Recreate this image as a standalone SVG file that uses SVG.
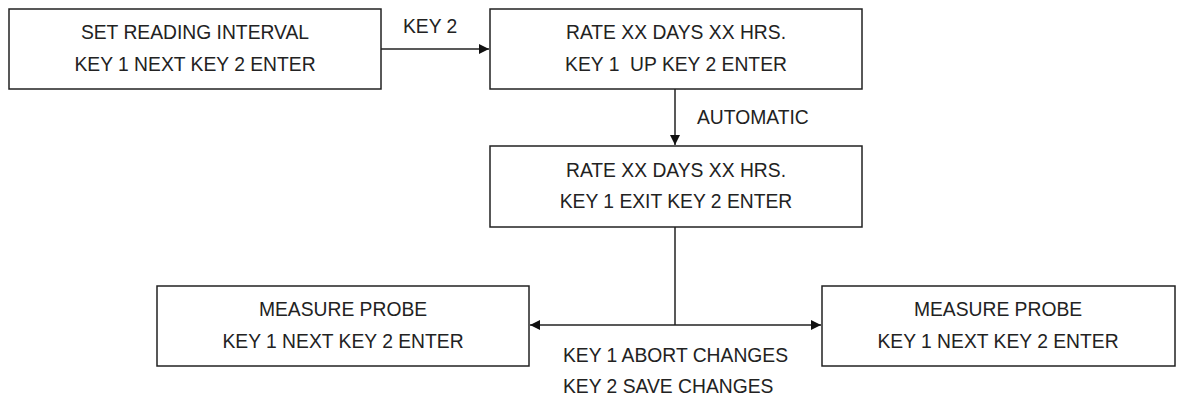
<svg xmlns="http://www.w3.org/2000/svg" width="1186" height="400" viewBox="0 0 1186 400">
<style>
.box{fill:#fff;stroke:#222;stroke-width:1.5}
.t{font-family:"Liberation Sans",Arial,sans-serif;font-size:19.3px;fill:#222;text-anchor:middle;white-space:pre}
.l{font-family:"Liberation Sans",Arial,sans-serif;font-size:19.3px;fill:#222;white-space:pre}
.c{fill:none;stroke:#222;stroke-width:1.5}
</style>
<defs>
<marker id="ah" viewBox="0 0 10 10" refX="10" refY="5" markerWidth="10" markerHeight="10" markerUnits="userSpaceOnUse" orient="auto">
<path d="M0,0 L10,5 L0,10 z" fill="#111"/>
</marker>
</defs>
<rect width="1186" height="400" fill="#fff"/>
<g id="connectors">
<line class="c" x1="381" y1="49" x2="489" y2="49" marker-end="url(#ah)"/>
<line class="c" x1="675" y1="89" x2="675" y2="145" marker-end="url(#ah)"/>
<line class="c" x1="675" y1="227" x2="675" y2="325"/>
<line class="c" x1="675" y1="325" x2="530" y2="325" marker-end="url(#ah)"/>
<line class="c" x1="675" y1="325" x2="821" y2="325" marker-end="url(#ah)"/>
<text class="l" x="403" y="33">KEY 2</text>
<text class="l" x="697" y="124">AUTOMATIC</text>
<text class="l" x="563" y="362">KEY 1 ABORT CHANGES</text>
<text class="l" x="563" y="393">KEY 2 SAVE CHANGES</text>
</g>
<g id="set-reading-interval">
<rect class="box" x="9" y="9" width="372" height="80"/>
<text class="t" x="195" y="39">SET READING INTERVAL</text>
<text class="t" x="195" y="71">KEY 1 NEXT KEY 2 ENTER</text>
</g>
<g id="rate-up">
<rect class="box" x="490" y="9" width="372" height="80"/>
<text class="t" x="676" y="39">RATE XX DAYS XX HRS.</text>
<text class="t" x="676" y="71">KEY 1  UP KEY 2 ENTER</text>
</g>
<g id="rate-exit">
<rect class="box" x="490" y="146" width="372" height="81"/>
<text class="t" x="676" y="177">RATE XX DAYS XX HRS.</text>
<text class="t" x="676" y="208">KEY 1 EXIT KEY 2 ENTER</text>
</g>
<g id="measure-probe-left">
<rect class="box" x="157" y="286" width="372" height="80"/>
<text class="t" x="343" y="316">MEASURE PROBE</text>
<text class="t" x="343" y="348">KEY 1 NEXT KEY 2 ENTER</text>
</g>
<g id="measure-probe-right">
<rect class="box" x="822" y="286" width="353" height="80"/>
<text class="t" x="998" y="316">MEASURE PROBE</text>
<text class="t" x="998" y="348">KEY 1 NEXT KEY 2 ENTER</text>
</g>
</svg>
